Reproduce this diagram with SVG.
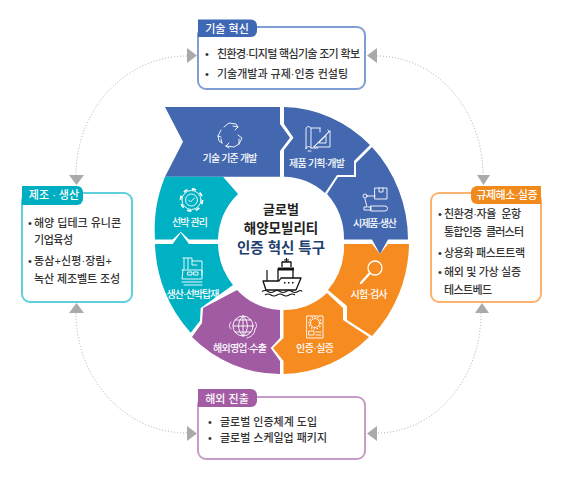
<svg xmlns="http://www.w3.org/2000/svg" width="564" height="478" viewBox="0 0 564 478">
<style>
text{font-family:"Liberation Sans","Noto Sans CJK KR","Noto Sans",sans-serif}
.seg{font-size:10px;fill:#fff;text-anchor:middle;font-weight:500}
.hd{font-size:11px;fill:#fff;text-anchor:middle;font-weight:500}
.t{font-size:11px;fill:#333;font-weight:500}
.box{fill:#fff;stroke-width:2}
.ic{fill:none;stroke:#fff;stroke-width:.9;stroke-linejoin:round;stroke-linecap:round}
.c{fill:none;stroke:#aaa;stroke-width:1;stroke-dasharray:1 2}
.ah{fill:#aaa;stroke:none}
.blue{fill:#4468b0}.teal{fill:#00b1c4}.pur{fill:#a05ba3}.org{fill:#f68b1f}
.ctr{font-weight:700;text-anchor:middle}
.s{fill:#fff;stroke:#111;stroke-width:1.3;stroke-linejoin:round}
.w{fill:none;stroke:#111;stroke-width:1.2}
</style>
<rect width="564" height="478" fill="#fff"/>
<g id="connectors">
<path class="c" d="M187 56A111 119 0 0 0 76 175"/>
<path class="c" d="M377 56A106 119 0 0 1 483 175"/>
<path class="c" d="M481 313A104 120 0 0 1 377 433"/>
<path class="c" d="M187 433A111 120 0 0 1 76 313"/>
<path class="ah" d="M187 48L197 55.500L187 63Z"/>
<path class="ah" d="M377 48L367 55.500L377 63Z"/>
<path class="ah" d="M187 426L197 433.500L187 441Z"/>
<path class="ah" d="M377 426L367 433.500L377 441Z"/>
<path class="ah" d="M69 175H84L76.500 185Z"/>
<path class="ah" d="M69 313H84L76.500 303Z"/>
<path class="ah" d="M477 175H490L483.500 185Z"/>
<path class="ah" d="M475 313H489L482 303Z"/>
</g>
<g id="seg-tech">
<path class="blue" d="M165 107H280V124L290 137.700L280 151V176.700H165L183 141.700Z"/>
<path class="ic" d="M224 127l5-4 7 1 2 3-3 3M238 127l-5-1M221 130l-3 6 1 5 3 2M222 143l-1-4M218 136l3 1M226 146l8 1 5-3 3-6-4-3M239 144l0-5M226 146l3-3M226 146l3 2"/>
<text class="seg" x="230" y="162" textLength="55">기술 기준 개발</text>
</g>
<g id="seg-product">
<path class="blue" d="M284 107A127 133.500 0 0 1 370 145L354 161V175H337L325 193A64 66 0 0 0 284 176.700V150L293.500 137.700L284 124Z"/>
<path class="ic" d="M311 128c-1-2-5-2-5 1v20c0-3 4-3 5-1V128h9M311 148h7M311 151h-3M314 147l15-15-1-2M314 147h16v-16ZM319 143h7v-7ZM320 128v4"/>
<text class="seg" x="317" y="167" textLength="56">제품 기획·개발</text>
</g>
<g id="seg-prototype">
<path class="blue" d="M372 147A127 133.500 0 0 1 408 239.500H388L380 254L372 239.500H344A64 66 0 0 0 327 194L338 177H356V163Z"/>
<path class="ic" d="M375 188h12v11h-12zM379 188v4h4v-4M367 196h8M365 199l2 8h-3v3h7v-3h-3M371 206h14a2.500 2.500 0 0 1 0 5h-14z"/>
<circle class="ic" cx="365" cy="196" r="2"/>
<text class="seg" x="375" y="227" textLength="44">시제품·생산</text>
</g>
<g id="seg-test">
<path class="org" d="M344 244H372L380 254L388 244H409A127 133.500 0 0 1 372 336L347 320V306L328 290A64 66 0 0 0 344 244Z"/>
<circle class="ic" cx="375" cy="268" r="7" style="stroke-width:1.3"/>
<path d="M369.500 273.500L361 283" fill="none" stroke="#fff" stroke-width="2.500" stroke-linecap="round"/>
<text class="seg" x="369" y="298" textLength="37">시험·검사</text>
</g>
<g id="seg-cert">
<path class="org" d="M283.500 310A64 66 0 0 0 327 293L343 308V320L369 337A127 133.500 0 0 1 283.500 374V361L273 348L283.500 338Z"/>
<path class="ic" d="M307 316h16v22h-16zM309 331h5v4h-5zM316 332h5M316 335h5"/>
<circle class="ic" cx="315" cy="323" r="4.500"/>
<circle cx="315" cy="323" r="6" fill="none" stroke="#fff" stroke-width="1.200" stroke-dasharray="1.500 1.500"/>
<text class="seg" x="315" y="352" textLength="38">인증·실증</text>
</g>
<g id="seg-export">
<path class="pur" d="M280 310A64 66 0 0 1 237 290L203 308L202 323L192 337A127 133.500 0 0 0 280 374V361L270.700 348L280 338Z"/>
<circle class="ic" cx="243" cy="326" r="10"/>
<path class="ic" d="M243 316v20M233 326h20M235 320h16M235 332h16M243 316c-6 6-6 14 0 20M243 316c6 6 6 14 0 20M231 322c-2 1-2 6 0 7M255 322c2 1 2 6 0 7M255 329c0 5-4 8-8 9"/>
<text class="seg" x="240" y="352" textLength="54">해외영업·수출</text>
</g>
<g id="seg-assembly">
<path class="teal" d="M155 244H172.700L180.700 232.700L189 244H218A64 66 0 0 0 233 285L200.700 308L200 320.700L190.700 332.700A127 133.500 0 0 1 155 244Z"/>
<path class="ic" d="M183 258h9v3h10v8M184 258v11M188 258v11M192 261v4h5M182 270h20v5M183 270l-1 9h20v-9M182 282h20M184 285h18M188 272h4v3h-4zM194 272h4v3h-4z"/>
<text class="seg" x="193" y="298" textLength="53">생산·선박탑재</text>
</g>
<g id="seg-ship">
<path class="teal" d="M165 176.700H223L238 194A64 66 0 0 0 218 239.500H189L180.700 231.700L172.700 239.500H155A127 133.500 0 0 1 165 176.700Z"/>
<circle class="ic" cx="191.500" cy="200" r="9.500"/>
<circle cx="191.500" cy="200" r="11" fill="none" stroke="#fff" stroke-width="1.800" stroke-dasharray="4.300 4.340"/>
<circle class="ic" cx="191.500" cy="200" r="6"/>
<path class="ic" d="M188.500 200l2 2 4-4"/>
<text class="seg" x="190" y="226" textLength="36">선박 관리</text>
</g>
<g id="center">
<text class="ctr" x="281" y="214" font-size="13" fill="#222">글로벌</text>
<text class="ctr" x="281" y="233" font-size="13.500" fill="#222">해양모빌리티</text>
<text class="ctr" x="281" y="253" font-size="14.500" fill="#22406f">인증 혁신 특구</text>
<path class="w" d="M267 281V270"/>
<path class="s" d="M278 281V269H293V278"/>
<path d="M278 267.500H294V270.500H278Z" fill="#111"/>
<path class="s" d="M282 267V262H291V267"/>
<path class="w" d="M286.500 262V258M284 260H289"/>
<path class="s" d="M263 281H279L281 278H301L296 290H266Z"/>
<path d="M284 282h1.500v1.500H284zM288 282h1.500v1.500H288zM292 282h1.500v1.500H292z" fill="#111"/>
<path class="w" d="M262 291.500q3-2 6 0t6 0 6 0 6 0 6 0 6 0 4 0M265 295q3-2 6 0t6 0 6 0 6 0 6 0"/>
</g>
<g id="box-tech">
<rect class="box" x="198" y="27" width="167" height="62" rx="8" stroke="#7f9fd4"/>
<path d="M198 19.500H251a6 6 0 0 1 6 6V31a6 6 0 0 1-6 6H198Z" fill="#3f68b4"/>
<text class="hd" x="227" y="33">기술 혁신</text>
<text class="t" x="205" y="58">•</text>
<text class="t" x="217" y="58" textLength="143">친환경·디지털 핵심기술 조기 확보</text>
<text class="t" x="205" y="78">•</text>
<text class="t" x="217" y="78" textLength="131">기술개발과 규제·인증 컨설팅</text>
</g>
<g id="box-mfg">
<rect class="box" x="22" y="193" width="110" height="109" rx="8" stroke="#5fcfdc"/>
<path d="M22 186H77a6 6 0 0 1 6 6V199a6 6 0 0 1-6 6H22Z" fill="#00aec1"/>
<text class="hd" x="54" y="199">제조 · 생산</text>
<text class="t" x="28" y="227">•</text>
<text class="t" x="34" y="227" textLength="87">해양 딥테크 유니콘</text>
<text class="t" x="34" y="244" textLength="39">기업육성</text>
<text class="t" x="28" y="265">•</text>
<text class="t" x="34" y="265" textLength="78">동삼+신평·장림+</text>
<text class="t" x="34" y="283" textLength="86">녹산 제조벨트 조성</text>
</g>
<g id="box-reg">
<rect class="box" x="431" y="193" width="110" height="109" rx="8" stroke="#fbb26f"/>
<path d="M477 186H541V204H477a6 6 0 0 1-6-6V192a6 6 0 0 1 6-6Z" fill="#f08a1c"/>
<text class="hd" x="507" y="199" textLength="61">규제해소·실증</text>
<text class="t" x="438" y="218">•</text>
<text class="t" x="444" y="218" textLength="77" xml:space="preserve">친환경·자율  운항</text>
<text class="t" x="444" y="236" textLength="80" xml:space="preserve">통합인증  클러스터</text>
<text class="t" x="438" y="257">•</text>
<text class="t" x="444" y="257" textLength="81">상용화 패스트트랙</text>
<text class="t" x="438" y="276">•</text>
<text class="t" x="444" y="276" textLength="77">해외 및 가상 실증</text>
<text class="t" x="444" y="294" textLength="48">테스트베드</text>
</g>
<g id="box-export">
<rect class="box" x="198" y="397" width="167" height="62" rx="8" stroke="#c79cc9"/>
<path d="M198 389H251a6 6 0 0 1 6 6V401a6 6 0 0 1-6 6H198Z" fill="#a45ca5"/>
<text class="hd" x="227" y="403">해외 진출</text>
<text class="t" x="208" y="426">•</text>
<text class="t" x="220" y="426" textLength="97">글로벌 인증체계 도입</text>
<text class="t" x="208" y="442">•</text>
<text class="t" x="220" y="442" textLength="107">글로벌 스케일업 패키지</text>
</g>
</svg>
